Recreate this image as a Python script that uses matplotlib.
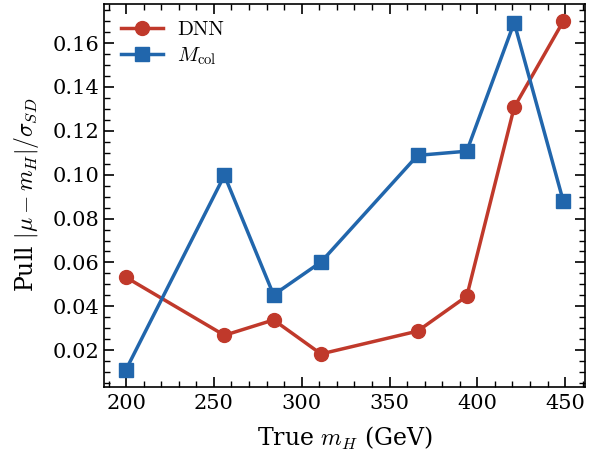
import matplotlib
matplotlib.use("Agg")
import matplotlib.pyplot as plt
from matplotlib.ticker import AutoMinorLocator

mass = [200, 256, 284, 311, 366, 394, 421, 449]
dnn = [0.0532, 0.0268, 0.0338, 0.0183, 0.0287, 0.0446, 0.1307, 0.1700]
mcol = [0.0112, 0.0997, 0.0452, 0.0602, 0.1088, 0.1107, 0.1693, 0.0878]

plt.rcParams['font.family'] = 'DejaVu Serif'
plt.rcParams['mathtext.fontset'] = 'cm'

fig = plt.figure(figsize=(5.99, 4.59), dpi=100)
ax = fig.add_axes([0.174, 0.157, 0.803, 0.835])

ax.plot(mass, dnn, '-o', color='#c0392b', lw=2.5, ms=10, label='DNN')
ax.plot(mass, mcol, '-s', color='#2166ac', lw=2.5, ms=10, label=r'$M_{\rm col}$')

ax.xaxis.set_minor_locator(AutoMinorLocator(5))
ax.yaxis.set_minor_locator(AutoMinorLocator(4))
ax.tick_params(which='both', direction='in', top=True, right=True, labelsize=15)
ax.tick_params(which='major', length=7, width=1.2)
ax.tick_params(which='minor', length=4, width=1.0)
ax.tick_params(axis='x', which='major', pad=5)
for s in ax.spines.values():
    s.set_linewidth(1.2)

ax.set_xlabel(r'True $m_H$ (GeV)', fontsize=17, labelpad=9)
ax.set_ylabel(r'Pull $|\mu - m_H|/\sigma_{SD}$', fontsize=17, labelpad=8)
leg = ax.legend(loc='upper left', frameon=False, prop={'size': 15},
                labelspacing=0.3, borderaxespad=0.4, handletextpad=0.7)
for t in leg.get_texts():
    t.set_fontfamily(['cmr10', 'DejaVu Serif'])

fig.savefig('out.png', dpi=100)
